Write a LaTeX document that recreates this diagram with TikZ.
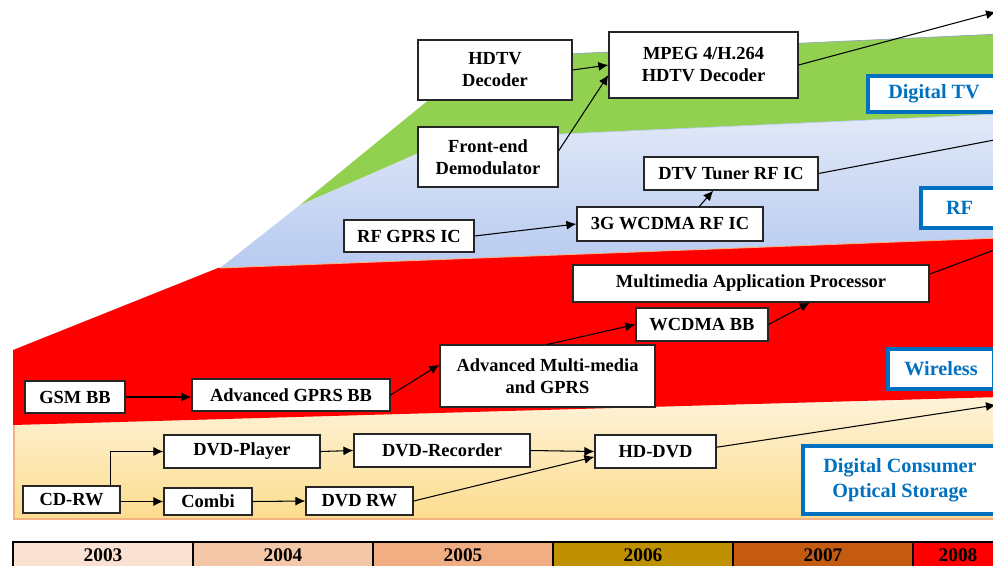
\documentclass[tikz,border=0pt]{standalone}
\usepackage{fontspec}
\setmainfont{Liberation Serif}
\usetikzlibrary{arrows.meta}

\definecolor{gruen}{HTML}{92D050}
\definecolor{blauoben}{HTML}{E2E9F8}
\definecolor{blauunten}{HTML}{B7CAF0}
\definecolor{cremeoben}{HTML}{FEF3DA}
\definecolor{cremeunten}{HTML}{FCDD8E}
\definecolor{rand}{HTML}{F4B183}
\definecolor{schrift}{HTML}{0070C0}
\definecolor{jahrA}{HTML}{FBE1D2}
\definecolor{jahrB}{HTML}{F4C7A8}
\definecolor{jahrC}{HTML}{F0AE82}
\definecolor{jahrD}{HTML}{BF9000}
\definecolor{jahrE}{HTML}{C55A11}
\definecolor{jahrF}{HTML}{FF0000}

\begin{document}
\begin{tikzpicture}[x=0.2mm,y=-0.2mm,
  kasten/.style={draw=black!85,line width=0.7pt,fill=white,align=center,inner sep=0pt,
    font=\fontsize{10.5}{12.5}\selectfont\bfseries},
  bereich/.style={draw=schrift,line width=1.8pt,fill=white,align=center,inner sep=0pt,
    text=schrift,font=\fontsize{11.5}{14}\selectfont\bfseries},
  gr/.style 2 args={minimum width=#1*0.2mm,minimum height=#2*0.2mm},
  pfeil/.style={line width=0.6pt,-{Latex[length=2mm,width=1.8mm]}},
  jahr/.style={draw=black,line width=1.2pt,fill=#1}]
  \useasboundingbox (0,0) rectangle (993,565);
  \clip (0,0) rectangle (993,565);
  % Bereich Optical Storage
  \shade[top color=cremeoben,bottom color=cremeunten] (13,423) -- (1000,397) -- (1000,519) -- (13,519) -- cycle;
  \draw[rand,line width=0.6pt] (1000,519) -- (14,519) -- (14,423);
  % Bereich Wireless
  \fill[red] (13,350) -- (218,268) -- (1000,238) -- (1000,397) -- (13,425) -- cycle;
  % Bereich RF
  \shade[top color=blauoben,bottom color=blauunten] (220,268) -- (300,205) -- (450,139) -- (1000,114) -- (1000,238) -- cycle;
  \draw[rand,line width=0.5pt] (220,268) -- (1000,238);
  % Bereich Digital TV
  \fill[gruen] (300,205) -- (480,58) -- (1000,34) -- (1000,114) -- (450,139) -- cycle;
  \draw[blauunten!80!black,line width=0.4pt] (480,58) -- (1000,34);
  \draw[blauunten,line width=0.4pt] (450,139) -- (1000,114);

  % Kaesten Digital TV
  \node[kasten,gr={154}{60}] (hdtv) at (495,70) {HDTV\\Decoder};
  \node[kasten,gr={189}{66}] (mpeg) at (703.5,65) {MPEG 4/H.264\\HDTV Decoder};
  \node[kasten,gr={140}{60}] (demod) at (488,157) {Front-end\\Demodulator};
  % Kaesten RF
  \node[kasten,gr={174}{33}] (tuner) at (731,173.5) {DTV Tuner RF IC};
  \node[kasten,gr={130}{32}] (rfgprs) at (409,236) {RF GPRS IC};
  \node[kasten,gr={186}{34}] (rfwcdma) at (670,224) {3G WCDMA RF IC};
  % Kaesten Wireless
  \node[kasten,gr={356}{37}] (proc) at (751,283.5) {Multimedia Application Processor};
  \node[kasten,gr={132}{33}] (wcdmabb) at (702,324.5) {WCDMA BB};
  \node[kasten,gr={215}{62}] (multi) at (547.5,376) {Advanced Multi-media\\and GPRS};
  \node[kasten,gr={100}{32}] (gsm) at (75,397) {GSM BB};
  \node[kasten,gr={198}{32}] (gprsbb) at (291,395) {Advanced GPRS BB};
  % Kaesten Optical Storage
  \node[kasten,gr={156}{33}] (player) at (242,451.5) {DVD-Player};
  \node[kasten,gr={176}{33}] (recorder) at (442,450.5) {DVD-Recorder};
  \node[kasten,gr={97}{27}] (cdrw) at (71.5,499.5) {CD-RW};
  \node[kasten,gr={88}{27}] (combi) at (208,501.5) {Combi};
  \node[kasten,gr={107}{28}] (dvdrw) at (359.5,501) {DVD RW};
  \node[kasten,gr={121}{33}] (hddvd) at (655.5,451.5) {HD-DVD};

  % Beschriftung der Bereiche
  \node[bereich,gr={132}{36}] (ltv) at (934,94) {Digital TV};
  \node[bereich,gr={77}{40}] (lrf) at (959.5,208) {RF};
  \node[bereich,gr={106}{40}] (lwl) at (941,369) {Wireless};
  \node[bereich,gr={194}{68}] (lopt) at (900,480) {Digital Consumer\\Optical Storage};

  % Ausgaenge nach rechts
  \coordinate (outtv) at (996,12);
  \coordinate (outrf) at (1010,137);
  \coordinate (outwl) at (1010,244);
  \coordinate (outopt) at (996,405);

  % Verbindungen Digital TV
  \draw[pfeil] (hdtv.east) -- (mpeg.west);
  \draw[pfeil] (demod.5) -- (mpeg.186);
  \draw[pfeil] (mpeg.east) -- (outtv);
  % Verbindungen RF
  \draw[pfeil] (rfgprs.east) -- (rfwcdma.west);
  \draw[pfeil] (rfwcdma.31) -- (tuner.224);
  \draw[pfeil] (tuner.east) -- (outrf);
  % Verbindungen Wireless
  \draw[pfeil] (gsm.east) -- (gsm.east -| gprsbb.west);
  \draw[pfeil] (gprsbb.east) -- (multi.174);
  \draw[pfeil] (multi.north) -- (wcdmabb.west);
  \draw[pfeil] (wcdmabb.east) -- (proc.342);
  \draw[pfeil] (proc.3) -- (outwl);
  % Verbindungen Optical Storage
  \draw[pfeil] (cdrw.20) |- (player.west);
  \draw[pfeil] (cdrw.east |- combi) -- (combi.west);
  \draw[pfeil] (combi.east) -- (dvdrw.west);
  \draw[pfeil] (player.east) -- (recorder.west);
  \draw[pfeil] (recorder.east) -- (hddvd.west);
  \draw[pfeil] (dvdrw.east) -- (hddvd.185);
  \draw[pfeil] (hddvd.4) -- (outopt);

  % Zeitleiste
  \foreach \j/\f/\a/\b in {2003/jahrA/13/193,2004/jahrB/193/373,2005/jahrC/373/553,
                           2006/jahrD/553/733,2007/jahrE/733/913,2008/jahrF/913/1003}{
    \draw[jahr=\f] (\a,542) rectangle (\b,590);
    \node[font=\fontsize{11}{13}\selectfont\bfseries] (j\j) at ({(\a+\b)/2},555) {\j};
  }
\end{tikzpicture}
\end{document}
